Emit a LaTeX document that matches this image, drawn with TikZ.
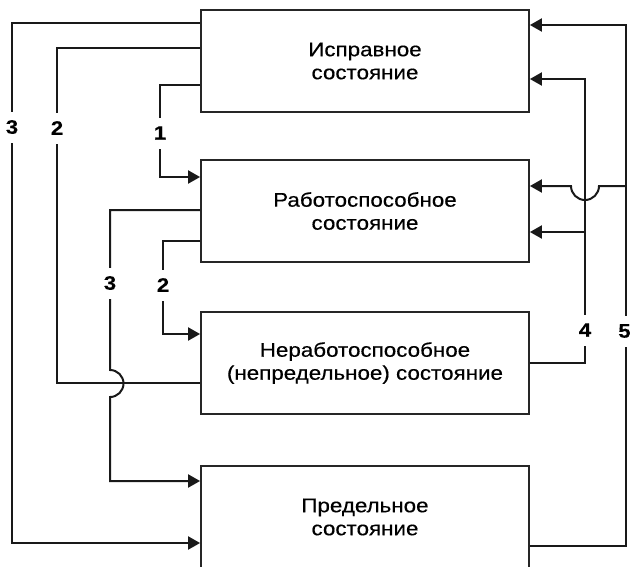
\documentclass[tikz,border=0pt]{standalone}
\usepackage{fontspec}
\setmainfont[FakeStretch=1.13,FakeBold=0.4]{Liberation Sans}
\usetikzlibrary{arrows.meta}
\tikzset{
  statebox/.style={draw=black!85, line width=1.8pt, minimum width=328pt, minimum height=102pt,
    inner sep=0pt, align=center, font=\fontsize{19.8}{23}\selectfont},
  link/.style={draw=black!90, line width=2pt},
  linkarrow/.style={link, -{Triangle[length=12pt,width=13pt]}},
  num/.style={fill=white, inner xsep=2pt, inner ysep=0pt, minimum height=31pt,
    font=\fontsize{19.5}{19.5}\selectfont\bfseries},
}
\begin{document}
\begin{tikzpicture}[x=1pt,y=-1pt]
    \useasboundingbox (0,0) rectangle (630,566);
    % states
    \node[statebox] (ispr)  at (365,61)  {Исправное\\состояние};
    \node[statebox] (rab)   at (365,211) {Работоспособное\\состояние};
    \node[statebox] (nerab) at (365,363) {Неработоспособное\\(непредельное) состояние};
    \node[statebox] (pred)  at (365,517) {Предельное\\состояние};
    % left side
    \draw[linkarrow] (ispr.west |- 0,23) -- (12,23) -- (12,543) -- (pred.west |- 0,543);
    \draw[link] (ispr.west |- 0,48) -- (57,48) -- (57,383) -- (nerab.west |- 0,383);
    \draw[linkarrow] (ispr.west |- 0,85) -- (160,85) -- (160,177) -- (rab.west |- 0,177);
    \draw[linkarrow] (rab.west |- 0,210) -- (110,210) -- (110,370)
        arc[start angle=90, end angle=-90, radius=13.5pt] -- (110,481) -- (pred.west |- 0,481);
    \draw[linkarrow] (rab.west |- 0,241) -- (163,241) -- (163,334) -- (nerab.west |- 0,334);
    % right side
    \draw[linkarrow] (nerab.east |- 0,363) -- (585,363) -- (585,79) -- (ispr.east |- 0,79);
    \draw[linkarrow] (585,232) -- (rab.east |- 0,232);
    \draw[linkarrow] (pred.east |- 0,546) -- (626,546) -- (626,25) -- (ispr.east |- 0,25);
    \draw[linkarrow] (626,186) -- (599,186)
        arc[start angle=0, end angle=-180, radius=14pt] -- (rab.east |- 0,186);
    % labels
    \node[num] (n3a) at (12,127)  {3};
    \node[num] (n2a) at (57,128)  {2};
    \node[num] (n1)  at (160,133) {1};
    \node[num] (n3b) at (110,283) {3};
    \node[num] (n2b) at (163,285) {2};
    \node[num] (n4)  at (585,330) {4};
    \node[num, inner xsep=0.5pt] (n5) at (624.5,331) {5};
\end{tikzpicture}
\end{document}
